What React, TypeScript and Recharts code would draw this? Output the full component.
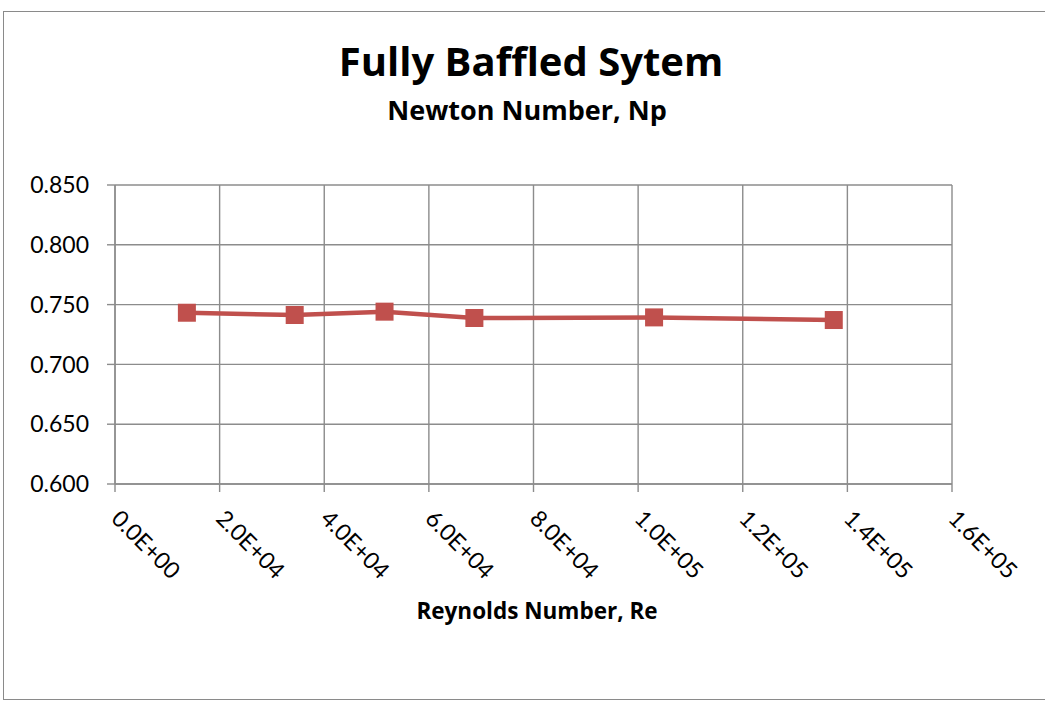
import React from "react";
import { LineChart, Line, XAxis, YAxis, CartesianGrid } from "recharts";

// Reynolds number vs power (Newton) number, fully baffled tank
const reynolds = [13740, 34350, 51525, 68700, 103050, 137400];
const newtonNumber = [0.7432, 0.7413, 0.7441, 0.7388, 0.7393, 0.7371];

const xTicks = [0, 20000, 40000, 60000, 80000, 100000, 120000, 140000, 160000];
const yTicks = [0.6, 0.65, 0.7, 0.75, 0.8, 0.85];

const chartTitle = "Fully Baffled Sytem";
const chartSubtitle = "Newton Number, Np";
const xAxisTitle = "Reynolds Number, Re";

const FONT = "Lato, 'Open Sans', sans-serif";
const TITLE_FONT = "'Open Sans', Lato, sans-serif";
const GRID = "#8c8c8c";
const SERIES = "#C0504D";

const data = reynolds.map((re, i) => ({ re, np: newtonNumber[i] }));

// Excel-style scientific format: 2.0E+04
const sci = (v: number) => {
  const [m, e] = v.toExponential(1).split("e");
  const sign = e[0] === "-" ? "-" : "+";
  const digits = e.replace(/[+-]/, "").padStart(2, "0");
  return `${m}E${sign}${digits}`;
};

const RotatedTick = (props: any) => {
  const { x, y, payload } = props;
  return (
    <g transform={`translate(${x - 5},${y + 26}) rotate(45)`}>
      <text x={0} y={0} textAnchor="start" fill="#000" fontSize={23} fontFamily={FONT}>
        {sci(payload.value)}
      </text>
    </g>
  );
};

const SquareDot = (props: any) => {
  const { cx, cy, index } = props;
  if (cx == null || cy == null) return null;
  const s = 18;
  return <rect key={`dot-${index}`} x={cx - s / 2} y={cy - s / 2} width={s} height={s} fill={SERIES} />;
};

export default function App() {
  return (
    <div style={{ position: "absolute", left: 0, top: 0, width: 1045, height: 709, background: "#fff" }}>
      <div
        style={{
          position: "absolute",
          left: 3,
          top: 11,
          width: 1060,
          height: 689,
          border: "1.5px solid #8a8a8a",
          boxSizing: "border-box",
        }}
      />
      <LineChart
        width={1045}
        height={709}
        data={data}
        margin={{ top: 185, right: 93, bottom: 145, left: 8 }}
        style={{ position: "absolute", left: 0, top: 0 }}
      >
        <CartesianGrid stroke={GRID} strokeWidth={1.4} />
        <XAxis
          dataKey="re"
          type="number"
          domain={[0, 160000]}
          ticks={xTicks}
          interval={0}
          height={80}
          stroke={GRID}
          strokeWidth={1.4}
          tickSize={8}
          tick={<RotatedTick />}
        />
        <YAxis
          type="number"
          domain={[0.6, 0.85]}
          ticks={yTicks}
          interval={0}
          width={107}
          stroke={GRID}
          strokeWidth={1.4}
          tickSize={8}
          tickMargin={18}
          tickFormatter={(v: number) => v.toFixed(3)}
          tick={{ fill: "#000", fontSize: 23, fontFamily: FONT }}
        />
        <Line
          dataKey="np"
          type="linear"
          stroke={SERIES}
          strokeWidth={4.5}
          dot={<SquareDot />}
          activeDot={false}
          isAnimationActive={false}
        />
      </LineChart>
      <svg width={1045} height={709} style={{ position: "absolute", left: 0, top: 0, pointerEvents: "none" }}>
        <text x={531} y={76} textAnchor="middle" fontFamily={TITLE_FONT} fontWeight={700} fontSize={40} fill="#000">
          {chartTitle}
        </text>
        <text x={527} y={120} textAnchor="middle" fontFamily={TITLE_FONT} fontWeight={700} fontSize={27} fill="#000">
          {chartSubtitle}
        </text>
        <text x={537} y={619} textAnchor="middle" fontFamily={TITLE_FONT} fontWeight={700} fontSize={22.5} fill="#000">
          {xAxisTitle}
        </text>
      </svg>
    </div>
  );
}
